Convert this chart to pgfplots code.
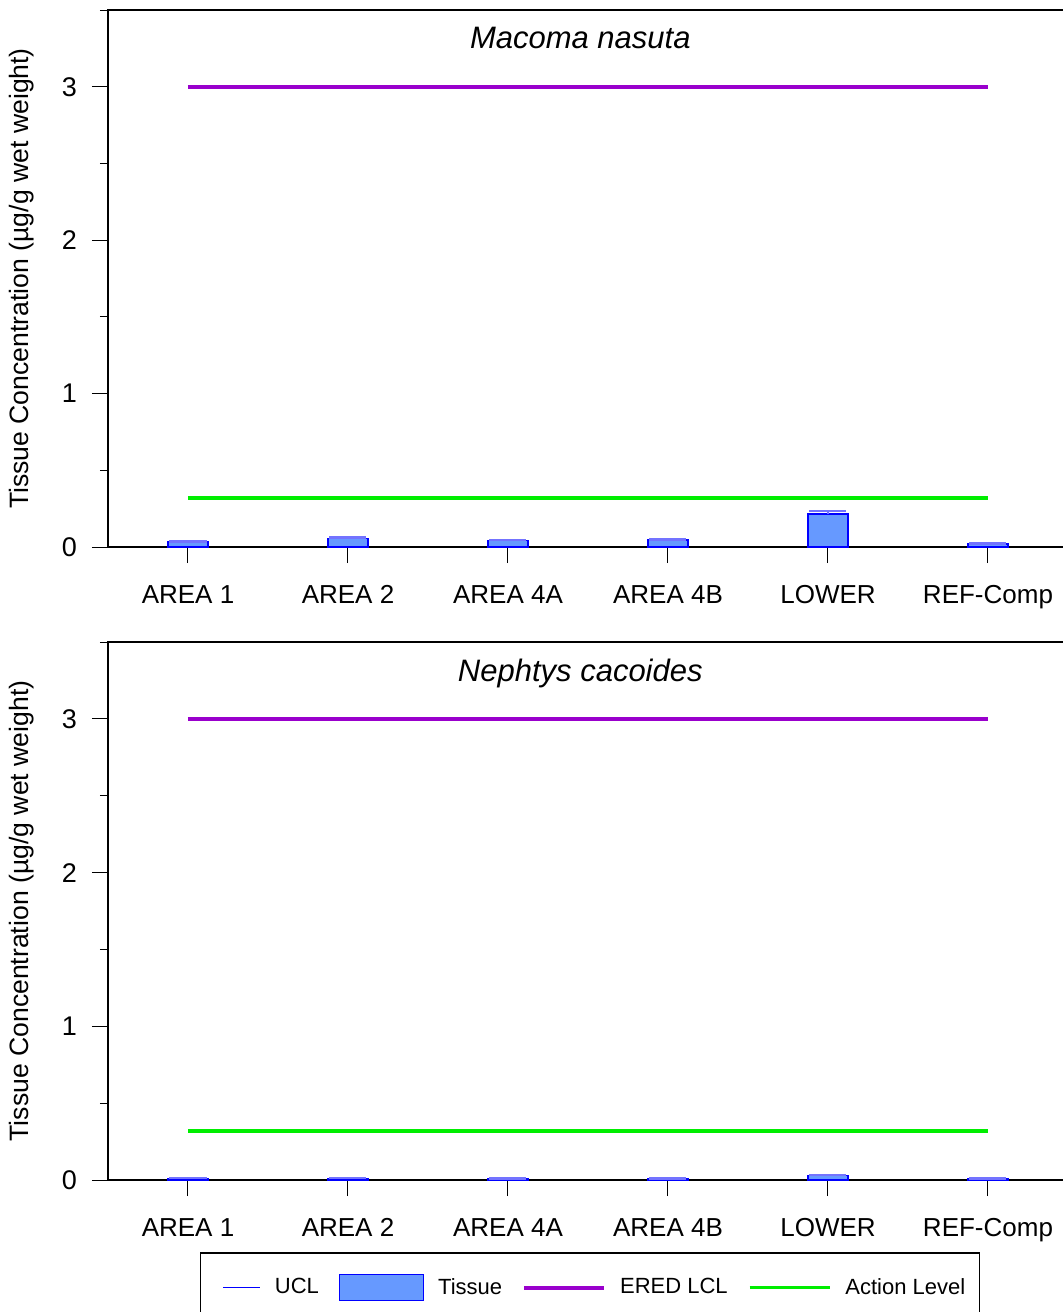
\documentclass[border=0pt]{standalone}
\usepackage{fontspec}
\setmainfont{Liberation Sans}
\usepackage{pgfplots}
\pgfplotsset{compat=1.18}
\definecolor{barfill}{HTML}{6699FF}
\definecolor{baredge}{HTML}{0000FF}
\definecolor{eredcol}{HTML}{9900CC}
\definecolor{actcol}{HTML}{00EE00}

\pgfplotsset{
  tissuepanel/.style={
    scale only axis,
    width=480pt, height=268.5pt,
    xmin=-0.5, xmax=5.5,
    ymin=0, ymax=3.5,
    xtick={0,1,2,3,4,5},
    xticklabels={AREA 1,AREA 2,AREA 4A,AREA 4B,LOWER,REF-Comp},
    ytick={0,1,2,3},
    minor ytick={0.5,1.5,2.5,3.5},
    tick pos=left,
    tick align=outside,
    major tick length=8pt,
    minor tick length=4pt,
    tick style={black, line width=0.5pt},
    axis line style={line width=0.6pt},
    /pgf/number format/assume math mode=true,
    yticklabel style={font=\fontsize{13.5}{15}\selectfont, xshift=-4pt},
    xticklabel style={font=\fontsize{13}{15}\selectfont, yshift=-7pt, text height=9.5pt, text depth=0pt},
    every axis y label/.style={at={(axis description cs:-0.0896,0.5)}, rotate=90, anchor=center},
    ylabel style={font=\fontsize{13.3}{15}\selectfont},
    ylabel={Tissue Concentration (µg/g wet weight)},
    clip=false,
  },
  tissuebar/.style={
    ybar, bar width=0.25, fill=barfill, draw=baredge, line width=0.6pt,
    error bars/y dir=plus, error bars/y explicit,
    error bars/error bar style={baredge!55, line width=0.6pt},
    error bars/error mark options={rotate=90, mark size=9.25pt, baredge!55, line width=1.2pt},
  },
  lineleg/.style={legend image code/.code={\draw[##1] (0pt,0pt) -- (40pt,0pt);}},
  barleg/.style={legend image code/.code={\draw[fill=barfill, draw=baredge, line width=0.6pt] (0pt,-6.5pt) rectangle (42pt,6.5pt);}},
  uclleg/.style={legend image code/.code={\path (0pt,0pt); \draw[draw=baredge, line width=0.8pt] (6pt,0pt) -- (24.5pt,0pt);}},
}

\begin{document}
\begin{tikzpicture}[x=1pt,y=1pt]
% upper panel
\begin{axis}[tissuepanel, at={(54pt,-273.5pt)}, anchor=south west]
\addplot[tissuebar] coordinates {
  (0,0.033) +- (0,0.003)
  (1,0.058) +- (0,0.004)
  (2,0.044) +- (0,0.003)
  (3,0.046) +- (0,0.003)
  (4,0.215) +- (0,0.021)
  (5,0.020) +- (0,0.002)
};
\addplot[eredcol, line width=2pt] coordinates {(0,3) (5,3)};
\addplot[actcol, line width=1.8pt] coordinates {(0,0.32) (5,0.32)};
\node[font=\fontsize{15.5}{18}\selectfont\itshape] at (rel axis cs:0.492,0.948) {Macoma nasuta};
\end{axis}
% lower panel
\begin{axis}[tissuepanel, at={(54pt,-590pt)}, anchor=south west, height=269pt,
  legend columns=4,
  legend style={at={(axis description cs:0.0958,-0.1345)}, anchor=north west,
    draw=black, line width=0.6pt, font=\fontsize{11}{13}\selectfont,
    inner xsep=5pt, inner ysep=10.5pt,
    /tikz/every odd column/.append style={column sep=5pt},
    /tikz/every even column/.append style={column sep=8pt}},
  legend cell align=left,
]
\addlegendimage{uclleg}
\addlegendentry{UCL}
\addplot[tissuebar, barleg] coordinates {
  (0,0.011) +- (0,0.001)
  (1,0.012) +- (0,0.001)
  (2,0.010) +- (0,0.001)
  (3,0.010) +- (0,0.001)
  (4,0.029) +- (0,0.002)
  (5,0.010) +- (0,0.001)
};
\addlegendentry{Tissue}
\addplot[eredcol, line width=2pt, lineleg] coordinates {(0,3) (5,3)};
\addlegendentry{ERED LCL}
\addplot[actcol, line width=1.8pt, lineleg] coordinates {(0,0.32) (5,0.32)};
\addlegendentry{Action Level}
\node[font=\fontsize{15.5}{18}\selectfont\itshape] at (rel axis cs:0.492,0.942) {Nephtys cacoides};
\end{axis}
\pgfresetboundingbox
\path[use as bounding box] (0pt,0pt) rectangle (531.5pt,-656pt);
\end{tikzpicture}
\end{document}
